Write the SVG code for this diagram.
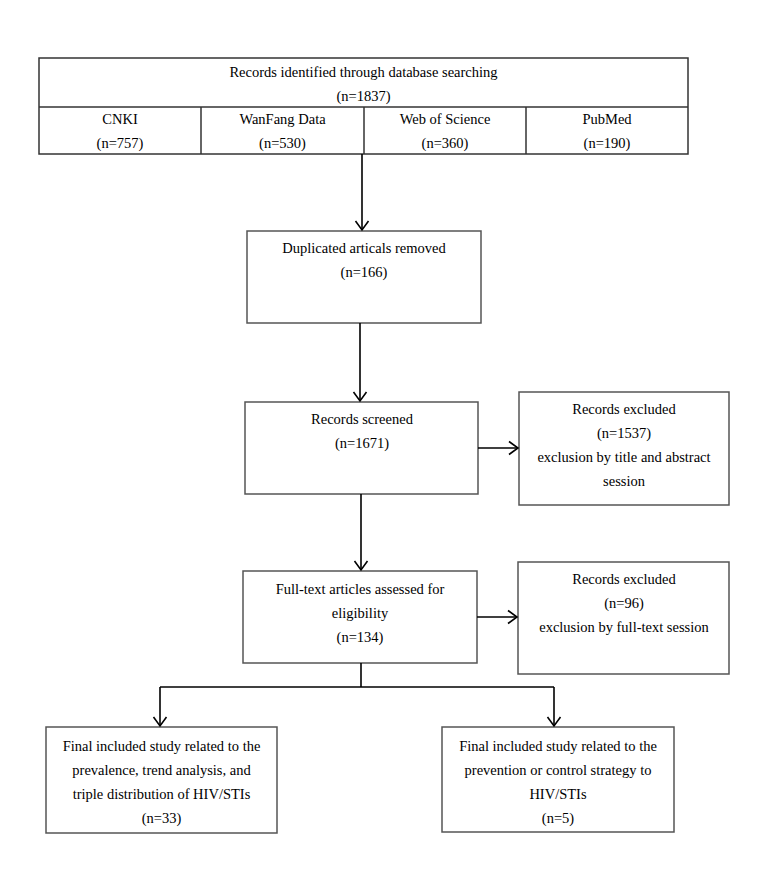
<svg xmlns="http://www.w3.org/2000/svg" width="758" height="871" viewBox="0 0 758 871">
<defs>
<marker id="ah" markerUnits="userSpaceOnUse" markerWidth="20" markerHeight="20" refX="10" refY="10" orient="auto" viewBox="0 0 20 20">
<path d="M1,3.5 L10,10 L1,16.5" fill="none" stroke="#000" stroke-width="1.6"/>
</marker>
</defs>
<style>
.box{fill:#fff;stroke:#555;stroke-width:1.5}
.tbl{fill:none;stroke:#333;stroke-width:1.5}
.t{font-family:"Liberation Serif","Times New Roman",serif;font-size:14.5px;fill:#000;text-anchor:middle}
.c{fill:none;stroke:#000;stroke-width:1.6}
</style>
<rect width="758" height="871" fill="#fff"/>
<g id="records-identified">
<rect class="tbl" x="39" y="58" width="649" height="96"/>
<line class="tbl" x1="39" y1="107" x2="688" y2="107"/>
<line class="tbl" x1="201" y1="107" x2="201" y2="154"/>
<line class="tbl" x1="364" y1="107" x2="364" y2="154"/>
<line class="tbl" x1="526" y1="107" x2="526" y2="154"/>
<text class="t" x="363.5" y="77">Records identified through database searching</text>
<text class="t" x="363.5" y="101">(n=1837)</text>
<text class="t" x="120" y="124">CNKI</text>
<text class="t" x="120" y="148">(n=757)</text>
<text class="t" x="282.5" y="124">WanFang Data</text>
<text class="t" x="282.5" y="148">(n=530)</text>
<text class="t" x="445" y="124">Web of Science</text>
<text class="t" x="445" y="148">(n=360)</text>
<text class="t" x="607" y="124">PubMed</text>
<text class="t" x="607" y="148">(n=190)</text>
</g>
<g id="duplicates-removed">
<rect class="box" x="247" y="231" width="234" height="92"/>
<text class="t" x="364" y="253">Duplicated articals removed</text>
<text class="t" x="364" y="277">(n=166)</text>
</g>
<g id="records-screened">
<rect class="box" x="245" y="402" width="233" height="92"/>
<text class="t" x="362" y="424">Records screened</text>
<text class="t" x="362" y="448">(n=1671)</text>
</g>
<g id="records-excluded-1">
<rect class="box" x="519" y="392" width="210" height="113"/>
<text class="t" x="624" y="414">Records excluded</text>
<text class="t" x="624" y="438">(n=1537)</text>
<text class="t" x="624" y="462">exclusion by title and abstract</text>
<text class="t" x="624" y="486">session</text>
</g>
<g id="full-text-assessed">
<rect class="box" x="243" y="571" width="234" height="92"/>
<text class="t" x="360" y="594">Full-text articles assessed for</text>
<text class="t" x="360" y="618">eligibility</text>
<text class="t" x="360" y="642">(n=134)</text>
</g>
<g id="records-excluded-2">
<rect class="box" x="518" y="562" width="211" height="112"/>
<text class="t" x="624" y="584">Records excluded</text>
<text class="t" x="624" y="608">(n=96)</text>
<text class="t" x="624" y="632">exclusion by full-text session</text>
</g>
<g id="final-prevalence">
<rect class="box" x="46" y="727" width="231" height="106"/>
<text class="t" x="161.5" y="751">Final included study related to the</text>
<text class="t" x="161.5" y="775">prevalence, trend analysis, and</text>
<text class="t" x="161.5" y="799">triple distribution of HIV/STIs</text>
<text class="t" x="161.5" y="823">(n=33)</text>
</g>
<g id="final-prevention">
<rect class="box" x="442" y="727" width="232" height="105"/>
<text class="t" x="558" y="751">Final included study related to the</text>
<text class="t" x="558" y="775">prevention or control strategy to</text>
<text class="t" x="558" y="799">HIV/STIs</text>
<text class="t" x="558" y="823">(n=5)</text>
</g>
<g id="connectors">
<line class="c" x1="362" y1="154" x2="362" y2="230" marker-end="url(#ah)"/>
<line class="c" x1="360" y1="323" x2="360" y2="401" marker-end="url(#ah)"/>
<line class="c" x1="478" y1="448" x2="518" y2="448" marker-end="url(#ah)"/>
<line class="c" x1="361" y1="494" x2="361" y2="570" marker-end="url(#ah)"/>
<line class="c" x1="477" y1="617" x2="517" y2="617" marker-end="url(#ah)"/>
<polyline class="c" points="361,663 361,687"/>
<polyline class="c" points="160,687 554,687"/>
<line class="c" x1="160" y1="687" x2="160" y2="726" marker-end="url(#ah)"/>
<line class="c" x1="554" y1="687" x2="554" y2="726" marker-end="url(#ah)"/>
</g>
</svg>
